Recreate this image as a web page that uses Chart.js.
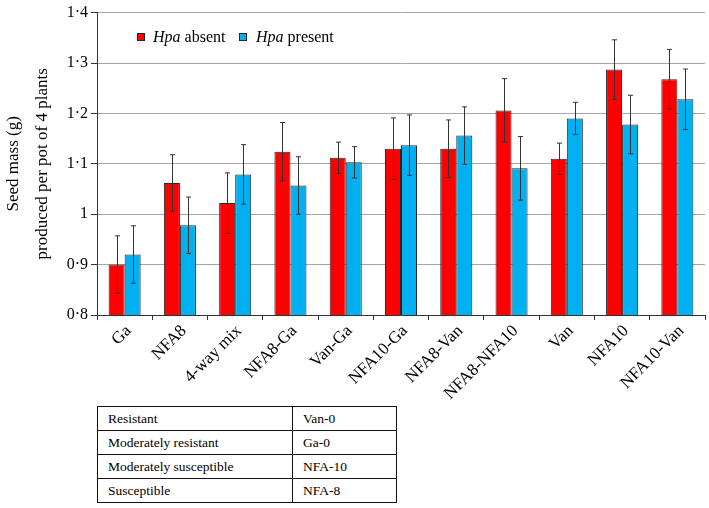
<!DOCTYPE html>
<html><head><meta charset="utf-8">
<script src="https://cdn.jsdelivr.net/npm/chart.js@4/dist/chart.umd.min.js"></script>
<style>
html,body{margin:0;padding:0;background:#fff;}
#wrap{position:relative;width:709px;height:508px;font-family:"Liberation Serif","Times New Roman",serif;color:#000;}
#c{position:absolute;left:0;top:0;}
.lg{position:absolute;font-size:16px;line-height:16px;white-space:nowrap;}
.sq{position:absolute;width:6px;height:6px;border:1px solid #262626;}
table{position:absolute;left:97px;top:406px;border-collapse:collapse;font-size:13.5px;table-layout:fixed;}
td{border:1px solid #111;height:23px;padding:0 0 0 10px;line-height:16px;}
</style>
</head><body>
<div id="wrap">
<canvas id="c" width="709" height="405"></canvas>
<div class="sq" style="left:137px;top:33px;background:#ff0000"></div>
<div class="lg" style="left:153px;top:29px"><i>Hpa</i> absent</div>
<div class="sq" style="left:239px;top:33px;background:#00b0f0"></div>
<div class="lg" style="left:256px;top:29px"><i>Hpa</i> present</div>
<table>
<colgroup><col style="width:195px"><col style="width:104px"></colgroup>
<tr><td>Resistant</td><td>Van-0</td></tr>
<tr><td>Moderately resistant</td><td>Ga-0</td></tr>
<tr><td>Moderately susceptible</td><td>NFA-10</td></tr>
<tr><td>Susceptible</td><td>NFA-8</td></tr>
</table>
</div>
<script>
const categories = ['Ga','NFA8','4-way mix','NFA8-Ga','Van-Ga','NFA10-Ga','NFA8-Van','NFA8-NFA10','Van','NFA10','NFA10-Van'];
const hpaAbsent = [0.900,1.062,1.022,1.124,1.112,1.130,1.130,1.206,1.110,1.287,1.268];
const hpaAbsentErr = [0.057,0.056,0.060,0.058,0.031,0.061,0.057,0.063,0.031,0.059,0.059];
const hpaPresent = [0.920,0.978,1.079,1.057,1.103,1.137,1.156,1.091,1.190,1.178,1.228];
const hpaPresentErr = [0.057,0.056,0.059,0.057,0.031,0.060,0.057,0.063,0.032,0.058,0.060];
const yTickLabels = ['0·8','0·9','1','1·1','1·2','1·3','1·4'];
const errors = [hpaAbsentErr, hpaPresentErr];
const FONT = '"Liberation Serif","Times New Roman",serif';

const errorBars = {
  id: 'errorBars',
  afterDatasetsDraw(chart) {
    const ctx = chart.ctx;
    const y = chart.scales.y;
    ctx.save();
    ctx.strokeStyle = '#333';
    ctx.lineWidth = 1;
    chart.data.datasets.forEach((ds, di) => {
      const meta = chart.getDatasetMeta(di);
      meta.data.forEach((bar, i) => {
        const v = ds.data[i], e = errors[di][i];
        const x = Math.round(bar.x) + 0.5;
        const t = y.getPixelForValue(v + e), b = y.getPixelForValue(v - e);
        ctx.beginPath();
        ctx.moveTo(x, t); ctx.lineTo(x, b);
        ctx.moveTo(x - 2.5, t); ctx.lineTo(x + 2.5, t);
        ctx.moveTo(x - 2.5, b); ctx.lineTo(x + 2.5, b);
        ctx.stroke();
      });
    });
    ctx.restore();
  }
};

new Chart(document.getElementById('c'), {
  type: 'bar',
  data: {
    labels: categories,
    datasets: [
      {label: 'Hpa absent', data: hpaAbsent, backgroundColor: '#ff0000', borderColor: '#262626', borderWidth: 1, borderSkipped: false},
      {label: 'Hpa present', data: hpaPresent, backgroundColor: '#00b0f0', borderColor: '#262626', borderWidth: 1, borderSkipped: false}
    ]
  },
  options: {
    responsive: false,
    animation: false,
    devicePixelRatio: 1,
    layout: {padding: {top: 10, right: 4, left: 0, bottom: 0}},
    datasets: {bar: {categoryPercentage: 0.58, barPercentage: 1.0}},
    plugins: {legend: {display: false}, tooltip: {enabled: false}},
    scales: {
      x: {
        grid: {drawOnChartArea: false, drawTicks: true, tickLength: 5, color: '#333', offset: true},
        border: {color: '#333'},
        ticks: {minRotation: 45, maxRotation: 45, autoSkip: false, color: '#000', padding: 1, labelOffset: 4,
          font: {family: FONT, size: 17}},
        afterFit(s) { s.height = 90; }
      },
      y: {
        min: 0.8, max: 1.4,
        ticks: {stepSize: 0.1, color: '#000', padding: 3, font: {family: FONT, size: 16},
          callback: (v, i) => yTickLabels[i]},
        grid: {color: '#a6a6a6', tickColor: '#333', tickLength: 6},
        border: {color: '#333'},
        title: {display: true, text: ['Seed mass (g)', 'produced per pot of 4 plants'], color: '#000',
          font: {family: FONT, size: 17, lineHeight: 1.65}, padding: {top: 0, bottom: 0}},
        afterFit(s) { s.width = 97; }
      }
    }
  },
  plugins: [errorBars]
});
</script>
</body></html>
